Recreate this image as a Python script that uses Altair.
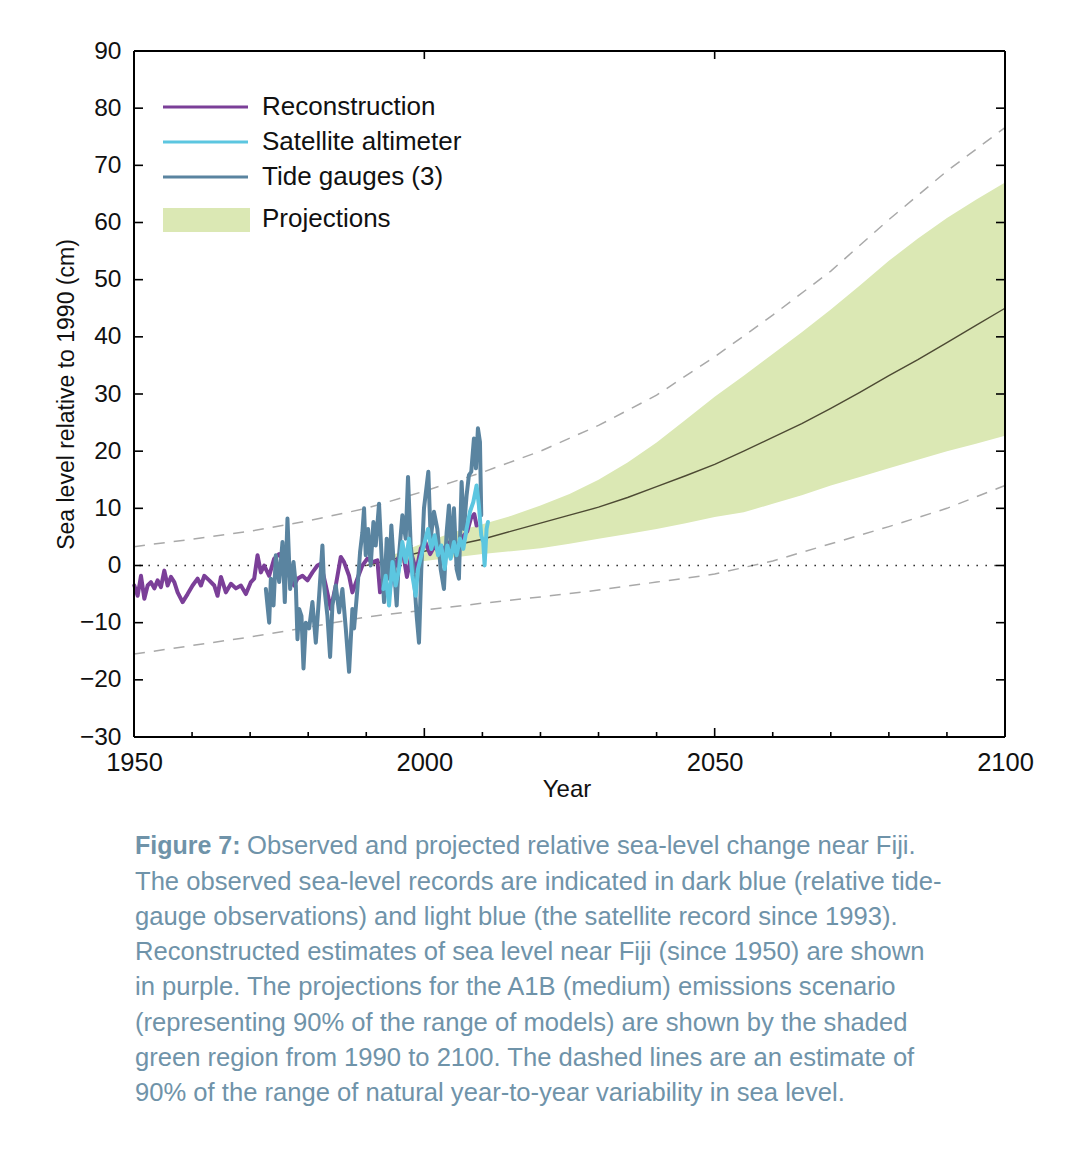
import altair as alt
import pandas as pd

FONT = "Liberation Sans"

# ---------------- data ----------------
rec_years = [1950.06, 1950.63, 1951.2, 1951.78, 1952.35, 1952.92, 1953.5, 1954.07, 1954.64, 1955.22,
             1955.79, 1956.36, 1956.94, 1957.51, 1958.37, 1959.23, 1960.09, 1960.95, 1961.53, 1962.1,
             1962.96, 1963.82, 1964.39, 1964.97, 1965.83, 1966.69, 1967.55, 1968.41, 1969.27, 1970.13,
             1970.7, 1971.27, 1971.85, 1972.42, 1973.28, 1974.14, 1975.0, 1975.86, 1976.72, 1977.58,
             1978.15, 1979.01, 1979.87, 1980.73, 1981.59, 1982.17, 1983.03, 1983.89, 1984.75, 1985.61,
             1986.18, 1987.04, 1987.61, 1988.47, 1989.33, 1990.19, 1991.06, 1991.92, 1992.37, 1993.0,
             1993.9, 1994.6, 1995.4, 1996.2, 1997.0, 1997.8, 1998.6, 1999.4, 2000.2, 2001.0,
             2001.8, 2002.6, 2003.4, 2004.2, 2005.0, 2005.8, 2006.6, 2007.4, 2008.0, 2008.6,
             2009.0]
rec_vals = [-3.5, -5.3, -1.8, -5.8, -3.5, -2.9, -4.0, -2.6, -3.8, -0.9,
            -3.5, -2.0, -2.9, -4.7, -6.4, -5.0, -3.5, -2.3, -3.5, -1.8,
            -2.6, -3.5, -5.3, -2.0, -4.7, -3.2, -4.0, -3.5, -5.0, -2.9,
            -2.3, 1.8, -1.2, 0.0, -1.8, 1.2, 2.0, 0.6, -1.8, -3.5,
            -2.3, -1.8, -2.6, -1.2, 0.0, 0.3, -3.5, -7.6, -3.5, 1.5,
            0.6, -1.8, -4.7, -2.3, 0.0, 1.2, 0.6, 0.9, -4.7, -3.0,
            -5.0, -1.0, 1.0, 3.0, -2.0, 2.0, -1.0, 3.0, 4.0, 2.0,
            3.5, 2.0, 3.0, 4.0, 2.5, 3.5, 5.0, 6.0, 8.2, 9.0,
            7.0]

tide_years = [1972.71, 1973.28, 1973.57, 1974.03, 1974.43, 1975.0, 1975.57, 1975.97, 1976.43, 1976.89,
              1977.47, 1977.87, 1978.15, 1978.44, 1978.84, 1979.19, 1979.59, 1980.16, 1980.73, 1981.31,
              1981.88, 1982.45, 1982.74, 1983.31, 1983.77, 1984.17, 1984.75, 1985.32, 1985.89, 1986.47,
              1987.04, 1987.61, 1987.9, 1988.47, 1988.93, 1989.33, 1989.62, 1989.91, 1990.31, 1990.77,
              1991.23, 1991.63, 1992.2, 1992.6, 1993.06, 1993.52, 1993.92, 1994.32, 1994.78, 1995.24,
              1995.64, 1996.22, 1996.79, 1997.19, 1997.65, 1998.22, 1998.68, 1999.08, 1999.48, 1999.94,
              2000.69, 2001.09, 2001.66, 2002.24, 2002.81, 2003.38, 2003.84, 2004.24, 2004.64, 2005.1,
              2005.56, 2005.96, 2006.42, 2006.82, 2007.28, 2007.68, 2008.08, 2008.54, 2008.89, 2009.23,
              2009.58, 2009.8]
tide_vals = [-4.1, -10.0, -2.3, -7.0, 1.8, -2.9, 4.1, -6.4, 8.2, -4.1,
             0.6, -3.5, -12.9, -7.6, -8.8, -18.0, -10.0, -11.0, -6.4, -13.5,
             -5.3, 3.5, -3.5, -8.8, -16.0, -7.0, -3.5, -8.2, -4.1, -11.0,
             -18.6, -7.6, -11.0, -4.1, 2.3, 5.8, 10.0, 1.8, 6.4, 0.0,
             7.6, 3.5, 10.8, 2.3, -6.4, 4.7, -2.3, 7.0, -0.6, -7.0,
             1.8, 8.8, 4.7, 15.5, 3.5, -1.8, -8.8, -13.5, -0.6, 10.0,
             16.4, 4.7, 9.4, 6.4, -0.6, -4.1, 5.8, 10.5, 1.8, 10.0,
             -0.6, -2.3, 14.6, 6.4, 12.3, 15.8, 16.4, 22.2, 17.0, 24.0,
             21.6, 8.8]

sat_years = [1992.95, 1993.35, 1993.92, 1994.5, 1995.07, 1995.64, 1996.22, 1996.79, 1997.36, 1997.94,
             1998.51, 1998.91, 1999.48, 2000.06, 2000.63, 2001.2, 2001.78, 2002.35, 2002.92, 2003.5,
             2003.96, 2004.53, 2005.1, 2005.56, 2006.14, 2006.71, 2007.28, 2007.86, 2008.43, 2009.0,
             2009.4, 2009.8, 2010.15, 2010.38, 2010.72, 2010.95]
sat_vals = [-4.1, -1.8, -7.0, 0.6, -3.5, -0.6, 4.1, 0.6, 4.7, -1.8,
            -5.3, -0.6, 1.8, 4.1, 6.4, 2.9, 5.3, 1.8, 3.5, -0.6,
            3.5, 1.2, 4.1, 1.8, 4.7, 2.9, 6.4, 9.4, 11.1, 14.0,
            10.5, 5.3, 4.1, 0.0, 6.4, 7.6]

proj_years = [1990, 1995, 2000, 2005, 2010, 2015, 2020, 2025, 2030, 2035, 2040, 2045,
              2050, 2055, 2060, 2065, 2070, 2075, 2080, 2085, 2090, 2095, 2100]
proj_mid = [0.0, 1.2, 2.5, 3.5, 4.6, 6.0, 7.4, 8.8, 10.2, 11.9, 13.8, 15.7,
            17.7, 20.0, 22.4, 24.8, 27.5, 30.3, 33.2, 36.0, 39.0, 42.0, 45.0]
proj_hi = [0.0, 2.0, 4.0, 5.8, 7.2, 8.7, 10.5, 12.5, 15.0, 18.0, 21.5, 25.5,
           29.5, 33.2, 37.0, 40.8, 44.8, 49.0, 53.3, 57.2, 60.8, 64.0, 67.0]
proj_lo = [0.0, 0.3, 0.8, 1.4, 2.0, 2.5, 3.0, 3.8, 4.7, 5.5, 6.4, 7.4,
           8.5, 9.3, 10.8, 12.3, 14.0, 15.5, 17.0, 18.5, 20.0, 21.3, 22.7]

var_years = [1950, 1960, 1970, 1980, 1990, 2000, 2010, 2020, 2030, 2040, 2050, 2060,
             2070, 2080, 2090, 2100]
var_hi = [3.3, 4.6, 6.0, 7.8, 10.0, 13.0, 16.3, 20.0, 24.5, 29.8, 36.5, 43.8,
          51.5, 60.5, 69.0, 76.6]
var_lo = [-15.5, -14.0, -12.5, -10.8, -9.0, -7.8, -6.6, -5.5, -4.3, -2.9, -1.5, 0.8,
          3.8, 6.8, 10.0, 14.0]

x_label_years = [1950, 2000, 2050, 2100]
x_minor_years = [1960, 1970, 1980, 1990, 2010, 2020, 2030, 2040, 2060, 2070, 2080, 2090]
x_major_inner = [2000, 2050]
y_ticks = [-30, -20, -10, 0, 10, 20, 30, 40, 50, 60, 70, 80, 90]
y_inner_ticks = [-20, -10, 0, 10, 20, 30, 40, 50, 60, 70, 80]

legend_labels = ["Reconstruction", "Satellite altimeter", "Tide gauges (3)", "Projections"]

caption_bold = "Figure 7:"
caption_first = "Observed and projected relative sea-level change near Fiji."
caption_rest = [
    "The observed sea-level records are indicated in dark blue (relative tide-",
    "gauge observations) and light blue (the satellite record since 1993).",
    "Reconstructed estimates of sea level near Fiji (since 1950) are shown",
    "in purple. The projections for the A1B (medium) emissions scenario",
    "(representing 90% of the range of models) are shown by the shaded",
    "green region from 1990 to 2100. The dashed lines are an estimate of",
    "90% of the range of natural year-to-year variability in sea level.",
]

# ---------------- colours ----------------
C_REC = "#7b3f98"
C_SAT = "#5cc6e0"
C_TIDE = "#5a84a0"
C_BAND = "#dbe8b4"
C_MID = "#4d4a33"
C_DASH = "#a9a9a9"
C_CAP = "#6f93a9"

W, H = 871, 686

xs = alt.Scale(domain=[1950, 2100], nice=False, zero=False)
ys = alt.Scale(domain=[-30, 90], nice=False, zero=False)

rec_df = pd.DataFrame({"year": rec_years, "v": rec_vals})
tide_df = pd.DataFrame({"year": tide_years, "v": tide_vals})
sat_df = pd.DataFrame({"year": sat_years, "v": sat_vals})
proj_df = pd.DataFrame({"year": proj_years, "mid": proj_mid, "hi": proj_hi, "lo": proj_lo})
var_df = pd.DataFrame({"year": var_years, "hi": var_hi, "lo": var_lo})

xaxis = alt.Axis(values=x_label_years, format="d", ticks=False, tickSize=0, domain=False, grid=False,
                 labelFlush=False, labelOverlap=False,
                 labelFontSize=25.5, labelPadding=13, labelColor="#111", title="Year",
                 titleFontSize=24, titleFontWeight="normal", titleColor="#111",
                 titleX=W / 2 - 3, titleY=52, titleBaseline="middle", titleAnchor="middle")
yaxis = alt.Axis(values=y_ticks, format="d", ticks=False, tickSize=0, domain=False, grid=False,
                 labelFlush=False, labelOverlap=False,
                 labelFontSize=24.5, labelPadding=13, labelColor="#111",
                 title="Sea level relative to 1990 (cm)", titleFontSize=23, titleFontWeight="normal",
                 titleColor="#111", titleX=-68, titleY=H / 2, titleAngle=-90,
                 titleBaseline="middle", titleAlign="center")

band = alt.Chart(proj_df).mark_area(color=C_BAND, opacity=1).encode(
    x=alt.X("year:Q", scale=xs, axis=xaxis),
    y=alt.Y("hi:Q", scale=ys, axis=yaxis),
    y2="lo:Q",
)
mid = alt.Chart(proj_df).mark_line(color=C_MID, strokeWidth=1.4).encode(
    x=alt.X("year:Q", scale=xs), y=alt.Y("mid:Q", scale=ys))
dash_hi = alt.Chart(var_df).mark_line(color=C_DASH, strokeWidth=1.5, strokeDash=[11, 9]).encode(
    x=alt.X("year:Q", scale=xs), y=alt.Y("hi:Q", scale=ys))
dash_lo = alt.Chart(var_df).mark_line(color=C_DASH, strokeWidth=1.5, strokeDash=[11, 9]).encode(
    x=alt.X("year:Q", scale=xs), y=alt.Y("lo:Q", scale=ys))
zero = alt.Chart(pd.DataFrame({"v": [0]})).mark_rule(color="#333", strokeWidth=1.6,
                                                      strokeDash=[1.6, 7.4]).encode(
    y=alt.Y("v:Q", scale=ys))

def obs(df, color):
    return alt.Chart(df).mark_line(color=color, strokeWidth=4, strokeJoin="round",
                                   strokeCap="round").encode(
        x=alt.X("year:Q", scale=xs), y=alt.Y("v:Q", scale=ys))

rec_line = obs(rec_df, C_REC)
tide_line = obs(tide_df, C_TIDE)
sat_line = obs(sat_df, C_SAT)

# inward ticks on the frame
tick_style = dict(color="black", strokeWidth=1.6)
bx_minor = alt.Chart(pd.DataFrame({"year": x_minor_years})).mark_rule(**tick_style).encode(
    x=alt.X("year:Q", scale=xs), y=alt.value(H), y2=alt.value(H - 5))
bx_major = alt.Chart(pd.DataFrame({"year": x_major_inner})).mark_rule(**tick_style).encode(
    x=alt.X("year:Q", scale=xs), y=alt.value(H), y2=alt.value(H - 9))
tx_major = alt.Chart(pd.DataFrame({"year": x_major_inner})).mark_rule(**tick_style).encode(
    x=alt.X("year:Q", scale=xs), y=alt.value(0), y2=alt.value(8))
ly_ticks = alt.Chart(pd.DataFrame({"v": y_inner_ticks})).mark_rule(**tick_style).encode(
    y=alt.Y("v:Q", scale=ys), x=alt.value(0), x2=alt.value(9))
ry_ticks = alt.Chart(pd.DataFrame({"v": y_inner_ticks})).mark_rule(**tick_style).encode(
    y=alt.Y("v:Q", scale=ys), x=alt.value(W), x2=alt.value(W - 9))

# frame drawn as rules so it is surely black
frame = [
    alt.Chart(pd.DataFrame({"k": [0]})).mark_rule(color="black", strokeWidth=2).encode(
        x=alt.value(0), x2=alt.value(W), y=alt.value(0)),
    alt.Chart(pd.DataFrame({"k": [0]})).mark_rule(color="black", strokeWidth=2).encode(
        x=alt.value(0), x2=alt.value(W), y=alt.value(H)),
    alt.Chart(pd.DataFrame({"k": [0]})).mark_rule(color="black", strokeWidth=2).encode(
        y=alt.value(0), y2=alt.value(H), x=alt.value(0)),
    alt.Chart(pd.DataFrame({"k": [0]})).mark_rule(color="black", strokeWidth=2).encode(
        y=alt.value(0), y2=alt.value(H), x=alt.value(W)),
]

# legend drawn inside the plot
one = pd.DataFrame({"k": [0]})
leg = []
for i, (lab, col) in enumerate(zip(legend_labels[:3], [C_REC, C_SAT, C_TIDE])):
    yy = 56 + 35 * i
    leg.append(alt.Chart(one).mark_rule(color=col, strokeWidth=3).encode(
        x=alt.value(29), x2=alt.value(114), y=alt.value(yy)))
    leg.append(alt.Chart(one).mark_text(align="left", baseline="middle", font=FONT, fontSize=26,
                                        color="#111").encode(
        x=alt.value(128), y=alt.value(yy), text=alt.value(lab)))
leg.append(alt.Chart(one).mark_rect(color=C_BAND).encode(
    x=alt.value(29), x2=alt.value(116), y=alt.value(157), y2=alt.value(181)))
leg.append(alt.Chart(one).mark_text(align="left", baseline="middle", font=FONT, fontSize=26,
                                    color="#111").encode(
    x=alt.value(128), y=alt.value(168), text=alt.value(legend_labels[3])))

# caption below the plot
cap = [
    alt.Chart(one).mark_text(align="left", baseline="top", font=FONT, fontSize=25, fontWeight="bold",
                             color=C_CAP).encode(x=alt.value(1), y=alt.value(783),
                                                 text=alt.value(caption_bold)),
    alt.Chart(one).mark_text(align="left", baseline="top", font=FONT, fontSize=25.6,
                             color=C_CAP).encode(x=alt.value(113), y=alt.value(783),
                                                 text=alt.value(caption_first)),
    alt.Chart(one).mark_text(align="left", baseline="top", font=FONT, fontSize=25.6, lineHeight=35.3,
                             color=C_CAP).encode(x=alt.value(1), y=alt.value(818.5),
                                                 text=alt.value(caption_rest)),
]

chart = alt.layer(
    band, mid, dash_hi, dash_lo, zero, rec_line, tide_line, sat_line,
    bx_minor, bx_major, tx_major, ly_ticks, ry_ticks, *frame, *leg, *cap
).properties(
    width=W, height=H,
    autosize=alt.AutoSizeParams(type="none"),
    padding={"left": 126, "top": 43, "right": 60, "bottom": 415},
).configure(
    font=FONT
).configure_view(
    stroke=None
).configure_axis(
    labelFont=FONT, titleFont=FONT
)

chart.save("out.html", embed_options={"renderer": "svg", "actions": False})
